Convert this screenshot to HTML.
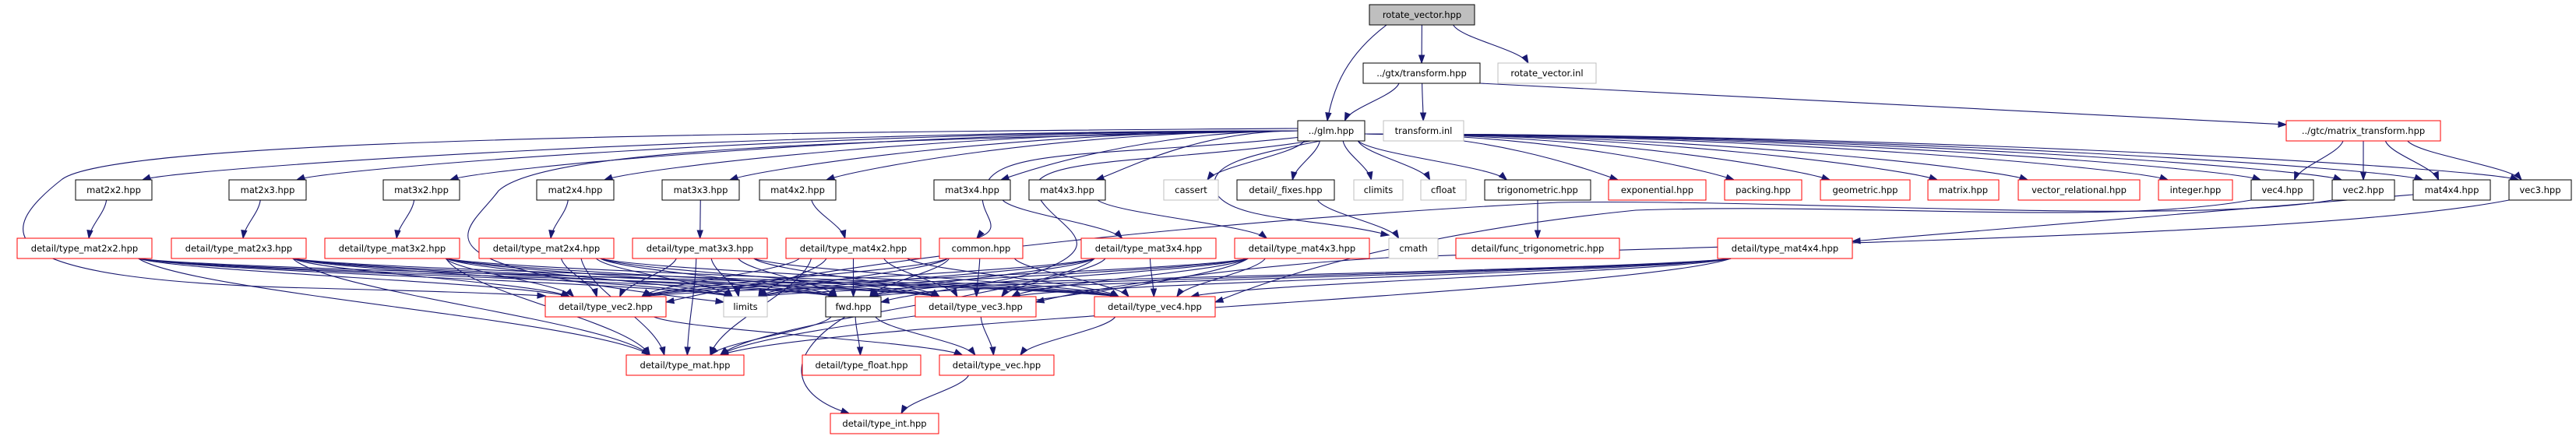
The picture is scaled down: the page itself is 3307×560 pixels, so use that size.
<!DOCTYPE html>
<html><head><meta charset="utf-8"><style>
html,body{margin:0;padding:0;background:#fff;width:3307px;height:560px;overflow:hidden}
svg text{font-family:"DejaVu Sans","Liberation Sans",sans-serif;font-size:11.5px;fill:#000}
</style></head><body>
<svg id="g" width="3307" height="560" viewBox="0 0 3307 560" xmlns="http://www.w3.org/2000/svg">
<g id="edges" fill="none" stroke="#191970" stroke-width="1.1"></g>
<g id="heads" fill="#191970" stroke="#191970"></g>
<g id="nodes">
<rect x="1758" y="6" width="135" height="26" fill="#bfbfbf" stroke="#000"/><text x="1825.5" y="23" text-anchor="middle">rotate_vector.hpp</text>
<rect x="1750" y="81" width="150" height="26" fill="#fff" stroke="#000"/><text x="1825" y="98" text-anchor="middle">../gtx/transform.hpp</text>
<rect x="1923" y="81" width="126" height="26" fill="#fff" stroke="#bfbfbf"/><text x="1986" y="98" text-anchor="middle">rotate_vector.inl</text>
<rect x="1666" y="155" width="86" height="26" fill="#fff" stroke="#000"/><text x="1709" y="172" text-anchor="middle">../glm.hpp</text>
<rect x="1776" y="155" width="103" height="26" fill="#fff" stroke="#bfbfbf"/><text x="1827.5" y="172" text-anchor="middle">transform.inl</text>
<rect x="2935" y="155" width="198" height="26" fill="#fff" stroke="#ff0000"/><text x="3034" y="172" text-anchor="middle">../gtc/matrix_transform.hpp</text>

<rect x="97" y="231" width="98" height="26" fill="#fff" stroke="#000"/><text x="146" y="248" text-anchor="middle">mat2x2.hpp</text>
<rect x="294" y="231" width="99" height="26" fill="#fff" stroke="#000"/><text x="343.5" y="248" text-anchor="middle">mat2x3.hpp</text>
<rect x="492" y="231" width="98" height="26" fill="#fff" stroke="#000"/><text x="541" y="248" text-anchor="middle">mat3x2.hpp</text>
<rect x="689" y="231" width="99" height="26" fill="#fff" stroke="#000"/><text x="738.5" y="248" text-anchor="middle">mat2x4.hpp</text>
<rect x="850" y="231" width="99" height="26" fill="#fff" stroke="#000"/><text x="899.5" y="248" text-anchor="middle">mat3x3.hpp</text>
<rect x="975" y="231" width="98" height="26" fill="#fff" stroke="#000"/><text x="1024" y="248" text-anchor="middle">mat4x2.hpp</text>
<rect x="1199" y="231" width="98" height="26" fill="#fff" stroke="#000"/><text x="1248" y="248" text-anchor="middle">mat3x4.hpp</text>
<rect x="1321" y="231" width="98" height="26" fill="#fff" stroke="#000"/><text x="1370" y="248" text-anchor="middle">mat4x3.hpp</text>
<rect x="1494" y="231" width="70" height="26" fill="#fff" stroke="#bfbfbf"/><text x="1529" y="248" text-anchor="middle">cassert</text>
<rect x="1588" y="231" width="125" height="26" fill="#fff" stroke="#000"/><text x="1650.5" y="248" text-anchor="middle">detail/_fixes.hpp</text>
<rect x="1738" y="231" width="63" height="26" fill="#fff" stroke="#bfbfbf"/><text x="1769.5" y="248" text-anchor="middle">climits</text>
<rect x="1824" y="231" width="58" height="26" fill="#fff" stroke="#bfbfbf"/><text x="1853" y="248" text-anchor="middle">cfloat</text>
<rect x="1906" y="231" width="136" height="26" fill="#fff" stroke="#000"/><text x="1974" y="248" text-anchor="middle">trigonometric.hpp</text>
<rect x="2065" y="231" width="125" height="26" fill="#fff" stroke="#ff0000"/><text x="2127.5" y="248" text-anchor="middle">exponential.hpp</text>
<rect x="2214" y="231" width="99" height="26" fill="#fff" stroke="#ff0000"/><text x="2263.5" y="248" text-anchor="middle">packing.hpp</text>
<rect x="2337" y="231" width="115" height="26" fill="#fff" stroke="#ff0000"/><text x="2394.5" y="248" text-anchor="middle">geometric.hpp</text>
<rect x="2475" y="231" width="91" height="26" fill="#fff" stroke="#ff0000"/><text x="2520.5" y="248" text-anchor="middle">matrix.hpp</text>
<rect x="2591" y="231" width="156" height="26" fill="#fff" stroke="#ff0000"/><text x="2669" y="248" text-anchor="middle">vector_relational.hpp</text>
<rect x="2771" y="231" width="95" height="26" fill="#fff" stroke="#ff0000"/><text x="2818.5" y="248" text-anchor="middle">integer.hpp</text>
<rect x="2890" y="231" width="80" height="26" fill="#fff" stroke="#000"/><text x="2930" y="248" text-anchor="middle">vec4.hpp</text>
<rect x="2994" y="231" width="80" height="26" fill="#fff" stroke="#000"/><text x="3034" y="248" text-anchor="middle">vec2.hpp</text>
<rect x="3098" y="231" width="99" height="26" fill="#fff" stroke="#000"/><text x="3147.5" y="248" text-anchor="middle">mat4x4.hpp</text>
<rect x="3221" y="231" width="80" height="26" fill="#fff" stroke="#000"/><text x="3261" y="248" text-anchor="middle">vec3.hpp</text>

<rect x="22" y="306" width="173" height="26" fill="#fff" stroke="#ff0000"/><text x="108.5" y="323" text-anchor="middle">detail/type_mat2x2.hpp</text>
<rect x="220" y="306" width="173" height="26" fill="#fff" stroke="#ff0000"/><text x="306.5" y="323" text-anchor="middle">detail/type_mat2x3.hpp</text>
<rect x="417" y="306" width="173" height="26" fill="#fff" stroke="#ff0000"/><text x="503.5" y="323" text-anchor="middle">detail/type_mat3x2.hpp</text>
<rect x="615" y="306" width="173" height="26" fill="#fff" stroke="#ff0000"/><text x="701.5" y="323" text-anchor="middle">detail/type_mat2x4.hpp</text>
<rect x="812" y="306" width="173" height="26" fill="#fff" stroke="#ff0000"/><text x="898.5" y="323" text-anchor="middle">detail/type_mat3x3.hpp</text>
<rect x="1009" y="306" width="173" height="26" fill="#fff" stroke="#ff0000"/><text x="1095.5" y="323" text-anchor="middle">detail/type_mat4x2.hpp</text>
<rect x="1206" y="306" width="107" height="26" fill="#fff" stroke="#ff0000"/><text x="1259.5" y="323" text-anchor="middle">common.hpp</text>
<rect x="1388" y="306" width="173" height="26" fill="#fff" stroke="#ff0000"/><text x="1474.5" y="323" text-anchor="middle">detail/type_mat3x4.hpp</text>
<rect x="1585" y="306" width="173" height="26" fill="#fff" stroke="#ff0000"/><text x="1671.5" y="323" text-anchor="middle">detail/type_mat4x3.hpp</text>
<rect x="1783" y="306" width="63" height="26" fill="#fff" stroke="#bfbfbf"/><text x="1814.5" y="323" text-anchor="middle">cmath</text>
<rect x="1869" y="306" width="210" height="26" fill="#fff" stroke="#ff0000"/><text x="1974" y="323" text-anchor="middle">detail/func_trigonometric.hpp</text>
<rect x="2205" y="306" width="173" height="26" fill="#fff" stroke="#ff0000"/><text x="2291.5" y="323" text-anchor="middle">detail/type_mat4x4.hpp</text>

<rect x="700" y="381" width="155" height="26" fill="#fff" stroke="#ff0000"/><text x="777.5" y="398" text-anchor="middle">detail/type_vec2.hpp</text>
<rect x="929" y="381" width="56" height="26" fill="#fff" stroke="#bfbfbf"/><text x="957" y="398" text-anchor="middle">limits</text>
<rect x="1060" y="381" width="71" height="26" fill="#fff" stroke="#000"/><text x="1095.5" y="398" text-anchor="middle">fwd.hpp</text>
<rect x="1175" y="381" width="155" height="26" fill="#fff" stroke="#ff0000"/><text x="1252.5" y="398" text-anchor="middle">detail/type_vec3.hpp</text>
<rect x="1405" y="381" width="155" height="26" fill="#fff" stroke="#ff0000"/><text x="1482.5" y="398" text-anchor="middle">detail/type_vec4.hpp</text>

<rect x="804" y="456" width="151" height="26" fill="#fff" stroke="#ff0000"/><text x="879.5" y="473" text-anchor="middle">detail/type_mat.hpp</text>
<rect x="1030" y="456" width="152" height="26" fill="#fff" stroke="#ff0000"/><text x="1106" y="473" text-anchor="middle">detail/type_float.hpp</text>
<rect x="1206" y="456" width="147" height="26" fill="#fff" stroke="#ff0000"/><text x="1279.5" y="473" text-anchor="middle">detail/type_vec.hpp</text>
<rect x="1066" y="531" width="139" height="26" fill="#fff" stroke="#ff0000"/><text x="1135.5" y="548" text-anchor="middle">detail/type_int.hpp</text>
</g>
</svg>
<script>
(function(){
var N={root:[1758,6,1893],gtx:[1750,81,1900],rvinl:[1923,81,2049],glm:[1666,155,1752],tinl:[1776,155,1879],mt:[2935,155,3133],
m22:[97,231,195],m23:[294,231,393],m32:[492,231,590],m24:[689,231,788],m33:[850,231,949],m42:[975,231,1073],m34:[1199,231,1297],m43:[1321,231,1419],
cassert:[1494,231,1564],fixes:[1588,231,1713],climits:[1738,231,1801],cfloat:[1824,231,1882],trig:[1906,231,2042],expo:[2065,231,2190],pack:[2214,231,2313],geom:[2337,231,2452],matrix:[2475,231,2566],vrel:[2591,231,2747],integer:[2771,231,2866],vec4:[2890,231,2970],vec2:[2994,231,3074],m44:[3098,231,3197],vec3:[3221,231,3301],
tm22:[22,306,195],tm23:[220,306,393],tm32:[417,306,590],tm24:[615,306,788],tm33:[812,306,985],tm42:[1009,306,1182],common:[1206,306,1313],tm34:[1388,306,1561],tm43:[1585,306,1758],cmath:[1783,306,1846],ftrig:[1869,306,2079],tm44:[2205,306,2378],
tv2:[700,381,855],limits:[929,381,985],fwd:[1060,381,1131],tv3:[1175,381,1330],tv4:[1405,381,1560],
tmat:[804,456,955],tfloat:[1030,456,1182],tvec:[1206,456,1353],tint:[1066,531,1205]};
var E=document.getElementById('edges'),H=document.getElementById('heads'),NS='http://www.w3.org/2000/svg';
function path(d,c2x,c2y,ex,ey){var p=document.createElementNS(NS,'path');p.setAttribute('d',d);E.appendChild(p);
var dx=ex-c2x,dy=ey-c2y,l=Math.sqrt(dx*dx+dy*dy)||1;dx/=l;dy/=l;var L=10,W=3.5;
var bx=ex-dx*L,by=ey-dy*L;var q=document.createElementNS(NS,'polygon');
q.setAttribute('points',ex+','+ey+' '+(bx-dy*W)+','+(by+dx*W)+' '+(bx+dy*W)+','+(by-dx*W));H.appendChild(q);}
function e(a,b,fx){var s=N[a],t=N[b];var scx=(s[0]+s[2])/2,sy=s[1]+26;var tcx=(t[0]+t[2])/2,ty=t[1];
var sw=(s[2]-s[0])/2,tw=(t[2]-t[0])/2;
var sx=scx+Math.max(-sw*0.8,Math.min(sw*0.8,(tcx-scx)*0.25));
var tx=tcx+Math.max(-tw*0.6,Math.min(tw*0.6,(scx-tcx)*0.15));
if(fx!==undefined)tx=fx;
var h=(ty-sy);var c1x=sx+(tx-sx)*0.1,c1y=sy+h*0.35,c2x=tx-(tx-sx)*0.1,c2y=ty-h*0.35;
path('M'+sx+','+sy+' C'+c1x+','+c1y+' '+c2x+','+c2y+' '+tx+','+ty,c2x,c2y,tx,ty);}
function wide(a,b){var s=N[a],t=N[b];var right=t[0]>s[2];var sx=right?s[2]:s[0],sy=right?172:168;
var tx=right?t[0]+12:t[2]-12,ty=t[1];var c1x=sx+(right?1:-1)*Math.abs(tx-sx)*0.5,c1y=sy;var c2x=tx+(right?-1:1)*40,c2y=ty-14;
path('M'+sx+','+sy+' C'+c1x+','+c1y+' '+c2x+','+c2y+' '+tx+','+ty,c2x,c2y,tx,ty);}
e('root','gtx');e('root','rvinl');
path('M1780,32 C1730,70 1712,110 1704,155',1708,125,1704,155);
e('gtx','glm');e('gtx','tinl');
path('M1900,107 C2300,130 2700,150 2935,160',2800,157,2935,160);
['mt'].forEach(function(m){e(m,'vec4');e(m,'vec2');e(m,'m44');e(m,'vec3');});
['m22','m23','m32','m24','m33','m42','m34','m43','matrix','vrel','integer','vec4','vec2','m44','vec3','geom','pack','expo'].forEach(function(k){wide('glm',k);});
['cassert','fixes','climits','cfloat','trig'].forEach(function(k){e('glm',k);});
path('M1680,175 C1450,200 1300,190 1270,230 C1240,270 1300,290 1254,306',1262,296,1254,306);
path('M1690,180 C1500,210 1320,200 1330,245 C1345,290 1440,310 1330,350 C1250,370 1160,378 1131,388',1160,382,1131,388);
path('M1700,180 C1600,200 1550,210 1560,245 C1575,285 1700,280 1783,302',1750,296,1783,302);
path('M1666,165 C900,170 150,180 80,230 C-10,300 -20,360 400,370 C550,374 620,376 700,380',650,378,700,380);
path('M1666,168 C1100,180 700,190 640,245 C600,300 500,340 929,388',880,382,929,388);
var ms=[['m22','tm22'],['m23','tm23'],['m32','tm32'],['m24','tm24'],['m33','tm33'],['m42','tm42'],['m34','tm34'],['m43','tm43'],['fixes','cmath'],['trig','ftrig']];
ms.forEach(function(p){e(p[0],p[1]);});
path('M3098,250 C2800,275 2500,300 2378,310',2420,307,2378,310);
path('M2890,257 C2700,290 2400,260 2100,270 C1900,290 1700,330 1560,388',1600,375,1560,388);
path('M2994,257 C2800,290 2300,255 2000,260 C1600,280 1100,330 855,388',900,380,855,388);
path('M3221,257 C3000,300 2400,310 1800,330 C1600,340 1400,370 1330,388',1370,378,1330,388);
['tm22','tm23','tm32','tm24','tm33','tm42','tm34','tm43','tm44'].forEach(function(k){['tv2','limits','fwd','tv3','tv4','tmat'].forEach(function(t){e(k,t);});});
['tv2','limits','fwd','tv3','tv4'].forEach(function(t){e('common',t);});
e('tv2','tvec');e('tv3','tvec');e('tv4','tvec');
e('fwd','tmat');e('fwd','tfloat');e('fwd','tvec');
path('M1085,407 C1000,460 1020,510 1090,531',1060,520,1090,531);
e('tvec','tint');
})();
</script>
</body></html>
